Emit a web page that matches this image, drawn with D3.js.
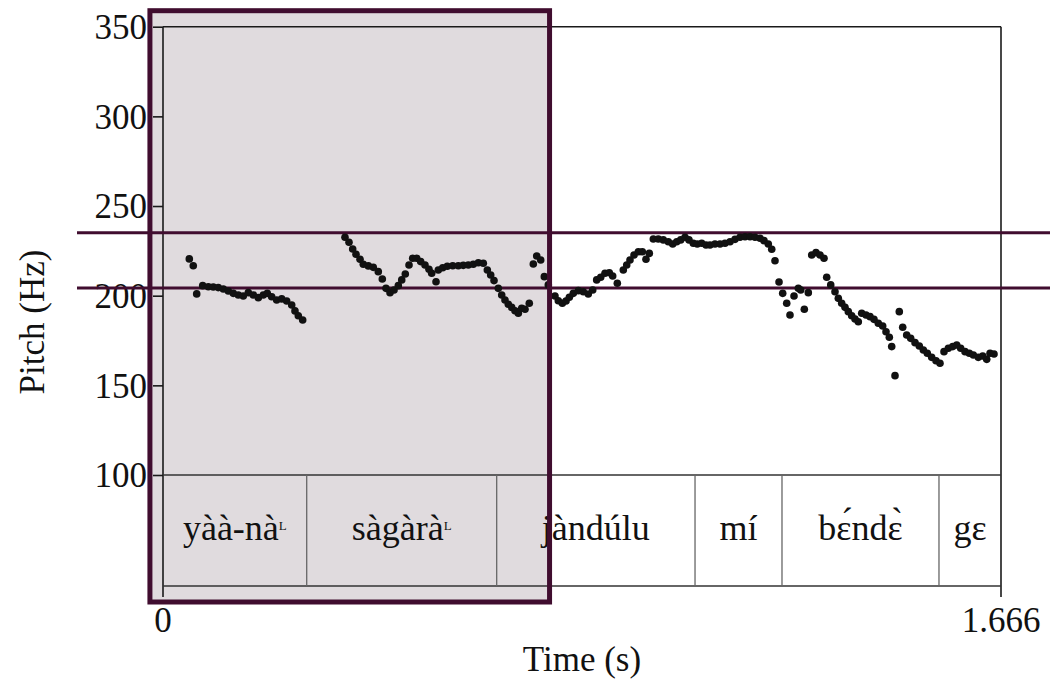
<!DOCTYPE html>
<html>
<head>
<meta charset="utf-8">
<script src="https://cdn.jsdelivr.net/npm/d3@7"></script>
</head>
<body style="margin:0; background:#ffffff">
<svg id="chart" width="1056" height="686" style="display:block"></svg>
<script>
// Pitch track: [time (s), F0 (Hz)]
const pitchPoints = [
  [0.0523, 220.5], [0.0602, 216.7], [0.0670, 201.0],
  [0.0789, 205.6], [0.0901, 205.0], [0.1000, 204.8], [0.1099, 204.5], [0.1199, 203.7],
  [0.1298, 202.6], [0.1398, 201.3], [0.1497, 200.4], [0.1596, 199.8], [0.1696, 201.7],
  [0.1795, 200.4], [0.1895, 198.9], [0.1994, 200.4], [0.2074, 201.3], [0.2161, 199.4],
  [0.2260, 197.6], [0.2360, 198.2], [0.2459, 197.0], [0.2559, 194.8], [0.2624, 191.5],
  [0.2690, 188.8], [0.2777, 186.4],
  [0.3618, 232.6], [0.3698, 229.8], [0.3771, 226.0], [0.3837, 223.1], [0.3917, 220.3],
  [0.3982, 217.5], [0.4082, 216.6], [0.4181, 215.8], [0.4280, 213.4], [0.4360, 209.3],
  [0.4433, 204.1], [0.4513, 201.7], [0.4593, 203.2], [0.4678, 205.6], [0.4746, 208.8],
  [0.4817, 212.1], [0.4891, 217.1], [0.4964, 220.9], [0.5044, 220.9], [0.5123, 219.0],
  [0.5209, 217.1], [0.5288, 214.7], [0.5342, 212.5], [0.5428, 207.8], [0.5473, 214.3],
  [0.5561, 215.6], [0.5652, 216.4], [0.5760, 216.7], [0.5871, 216.7], [0.5970, 216.9],
  [0.6070, 217.1], [0.6169, 217.5], [0.6269, 218.4], [0.6368, 218.1], [0.6448, 214.3],
  [0.6515, 211.5], [0.6581, 208.4], [0.6666, 204.1], [0.6734, 200.4], [0.6799, 197.6],
  [0.6865, 195.2], [0.6932, 193.5], [0.6998, 191.6], [0.7064, 190.2], [0.7131, 193.0],
  [0.7197, 192.4], [0.7282, 195.8],
  [0.7362, 217.7], [0.7430, 222.1], [0.7509, 219.9], [0.7581, 210.6], [0.7660, 206.0],
  [0.7793, 199.8], [0.7859, 197.2], [0.7939, 195.8], [0.8012, 197.0], [0.8078, 199.1],
  [0.8157, 201.3], [0.8257, 202.8], [0.8356, 202.2], [0.8455, 200.9], [0.8543, 203.2],
  [0.8622, 208.8], [0.8702, 210.3], [0.8787, 212.5], [0.8873, 212.8], [0.8940, 211.0],
  [0.9032, 206.9], [0.9151, 214.3], [0.9219, 217.1], [0.9284, 219.9], [0.9364, 222.7],
  [0.9450, 224.5], [0.9529, 224.5], [0.9602, 220.3], [0.9668, 223.6],
  [0.9748, 231.6], [0.9847, 231.6], [0.9946, 231.1], [1.0046, 230.1], [1.0133, 228.8],
  [1.0213, 230.1], [1.0292, 231.1], [1.0378, 232.6], [1.0457, 231.1], [1.0543, 229.2],
  [1.0622, 228.8], [1.0710, 229.2], [1.0795, 228.3], [1.0875, 228.3], [1.0974, 228.8],
  [1.1074, 228.8], [1.1173, 229.2], [1.1273, 230.1], [1.1372, 231.4], [1.1471, 232.6],
  [1.1571, 232.9], [1.1670, 232.9], [1.1770, 232.6], [1.1869, 232.0], [1.1948, 230.7],
  [1.2034, 228.8], [1.2102, 225.9], [1.2167, 219.5], [1.2247, 207.6], [1.2320, 201.3],
  [1.2400, 195.8], [1.2465, 189.2], [1.2545, 199.8], [1.2631, 204.1], [1.2678, 203.2],
  [1.2750, 192.4], [1.2829, 201.7],
  [1.2897, 222.7], [1.2982, 224.0], [1.3062, 222.7], [1.3141, 220.9], [1.3195, 210.3],
  [1.3275, 206.0], [1.3360, 202.2], [1.3426, 198.5], [1.3493, 195.8], [1.3559, 193.5],
  [1.3625, 191.1], [1.3692, 188.8], [1.3758, 187.0], [1.3823, 185.5], [1.3891, 190.2],
  [1.3976, 189.2], [1.4056, 188.3], [1.4135, 186.8], [1.4221, 184.6], [1.4308, 183.1],
  [1.4374, 179.9], [1.4440, 176.8], [1.4487, 171.6], [1.4553, 155.4],
  [1.4638, 191.1], [1.4706, 182.4], [1.4785, 178.1], [1.4865, 176.2], [1.4951, 173.8],
  [1.5036, 171.9], [1.5116, 169.7], [1.5195, 167.9], [1.5282, 165.6], [1.5368, 163.7],
  [1.5447, 162.3],
  [1.5527, 168.8], [1.5613, 170.7], [1.5700, 171.6], [1.5780, 172.5], [1.5859, 170.7],
  [1.5945, 168.8], [1.6030, 167.9], [1.6110, 166.9], [1.6209, 165.6], [1.6297, 166.4],
  [1.6376, 164.5], [1.6442, 167.9], [1.6521, 167.5]
];

// Word tier: interval boundaries (s), words and superscript tone marks
const tierBounds = [0, 0.2857, 0.6634, 1.0577, 1.2306, 1.5427, 1.666];
const tierWords = ["yàà-nà", "sàgàrà", "jàndúlu", "mí", "b\u025B\u0301nd\u025B\u0300", "g\u025B"];
const tierTones = ["L", "L", "", "", "", ""];

// Axes
const timeDomain = [0, 1.666];
const timeTicks = [0, 1.666];
const timeTickLabels = ["0", "1.666"];
const pitchDomain = [100, 350];
const pitchTicks = [100, 150, 200, 250, 300, 350];

// Reference pitch levels (Hz) and the highlighted stretch (s)
const referenceLevels = [235.1, 204.3];
const highlightSpan = [-0.026, 0.7685];

const serif = '"Liberation Serif", monospace';
const plum = "#400d2f";
const svg = d3.select("#chart");

const x = d3.scaleLinear().domain(timeDomain).range([163, 1001]);
const y = d3.scaleLinear().domain(pitchDomain).range([475, 26.7]);

const plotTop = y(350), tierTop = y(100), tierBottom = 586, axisBottom = 597;

// highlight fill (behind everything)
const hx0 = x(highlightSpan[0]), hx1 = x(highlightSpan[1]);
const hy0 = plotTop - 16, hy1 = axisBottom + 5;
svg.append("rect")
  .attr("x", hx0).attr("y", hy0)
  .attr("width", hx1 - hx0).attr("height", hy1 - hy0)
  .attr("fill", "#e0dbde");

// frame
const frame = svg.append("g").attr("stroke", "#1a1a1a").attr("stroke-width", 1.6).attr("fill", "none");
frame.append("line").attr("x1", x(0)).attr("x2", x(1.666)).attr("y1", plotTop).attr("y2", plotTop);
frame.append("line").attr("x1", x(0)).attr("x2", x(0)).attr("y1", plotTop).attr("y2", axisBottom);
frame.append("line").attr("x1", x(1.666)).attr("x2", x(1.666)).attr("y1", plotTop).attr("y2", axisBottom);

// pitch axis ticks and labels
const yAxis = d3.axisLeft(y).tickValues(pitchTicks).tickSize(10).tickPadding(6).tickFormat(d3.format("d"));
const gy = svg.append("g").attr("transform", `translate(${x(0)},0)`).call(yAxis)
  .attr("font-size", 35).attr("font-family", null);
gy.select(".domain").remove();
gy.selectAll(".tick line").attr("stroke", "#1a1a1a").attr("stroke-width", 1.6);
gy.selectAll(".tick text").attr("fill", "#111").attr("dy", "0.34em");

// time axis labels
svg.append("g").selectAll("text").data(timeTicks).join("text")
  .attr("x", d => x(d)).attr("y", 632)
  .attr("text-anchor", "middle").attr("font-size", 35)
  .text((d, i) => timeTickLabels[i]);

// axis titles
svg.append("text").attr("x", 582).attr("y", 671).attr("text-anchor", "middle")
  .attr("font-size", 35).text("Time (s)");
svg.append("text").attr("transform", "translate(44,322) rotate(-90)")
  .attr("text-anchor", "middle").attr("font-size", 35).text("Pitch (Hz)");

// word tier
const tier = svg.append("g");
tier.append("line").attr("x1", x(0)).attr("x2", x(1.666)).attr("y1", tierTop).attr("y2", tierTop)
  .attr("stroke", "#333").attr("stroke-width", 1.5);
tier.append("line").attr("x1", x(0)).attr("x2", x(1.666)).attr("y1", tierBottom).attr("y2", tierBottom)
  .attr("stroke", "#333").attr("stroke-width", 1.5);
tier.selectAll("line.bound").data(tierBounds.slice(1, -1)).join("line").attr("class", "bound")
  .attr("x1", d => x(d)).attr("x2", d => x(d)).attr("y1", tierTop).attr("y2", tierBottom)
  .attr("stroke", "#666").attr("stroke-width", 1.3);
const words = tier.selectAll("text.word").data(tierWords).join("text").attr("class", "word")
  .attr("x", (d, i) => (x(tierBounds[i]) + x(tierBounds[i + 1])) / 2)
  .attr("y", 540).attr("text-anchor", "middle").attr("font-size", 36);
words.append("tspan").text(d => d);
words.filter((d, i) => tierTones[i] !== "").append("tspan")
  .attr("font-size", 13).attr("dy", -10)
  .text(d => tierTones[tierWords.indexOf(d)]);

// reference pitch levels
svg.append("g").selectAll("line").data(referenceLevels).join("line")
  .attr("x1", 77).attr("x2", 1050)
  .attr("y1", d => y(d)).attr("y2", d => y(d))
  .attr("stroke", plum).attr("stroke-width", 3);

// pitch points
svg.append("g").selectAll("circle").data(pitchPoints).join("circle")
  .attr("cx", d => x(d[0])).attr("cy", d => y(d[1]))
  .attr("r", 3.8).attr("fill", "#111");

// highlight border
svg.append("rect")
  .attr("x", hx0).attr("y", hy0)
  .attr("width", hx1 - hx0).attr("height", hy1 - hy0)
  .attr("fill", "none").attr("stroke", plum).attr("stroke-width", 5);

// serif face for every label
svg.selectAll("text").attr("font-family", "Liberation Serif").style("font-family", serif).style("fill", "#111");
</script>
</body>
</html>
